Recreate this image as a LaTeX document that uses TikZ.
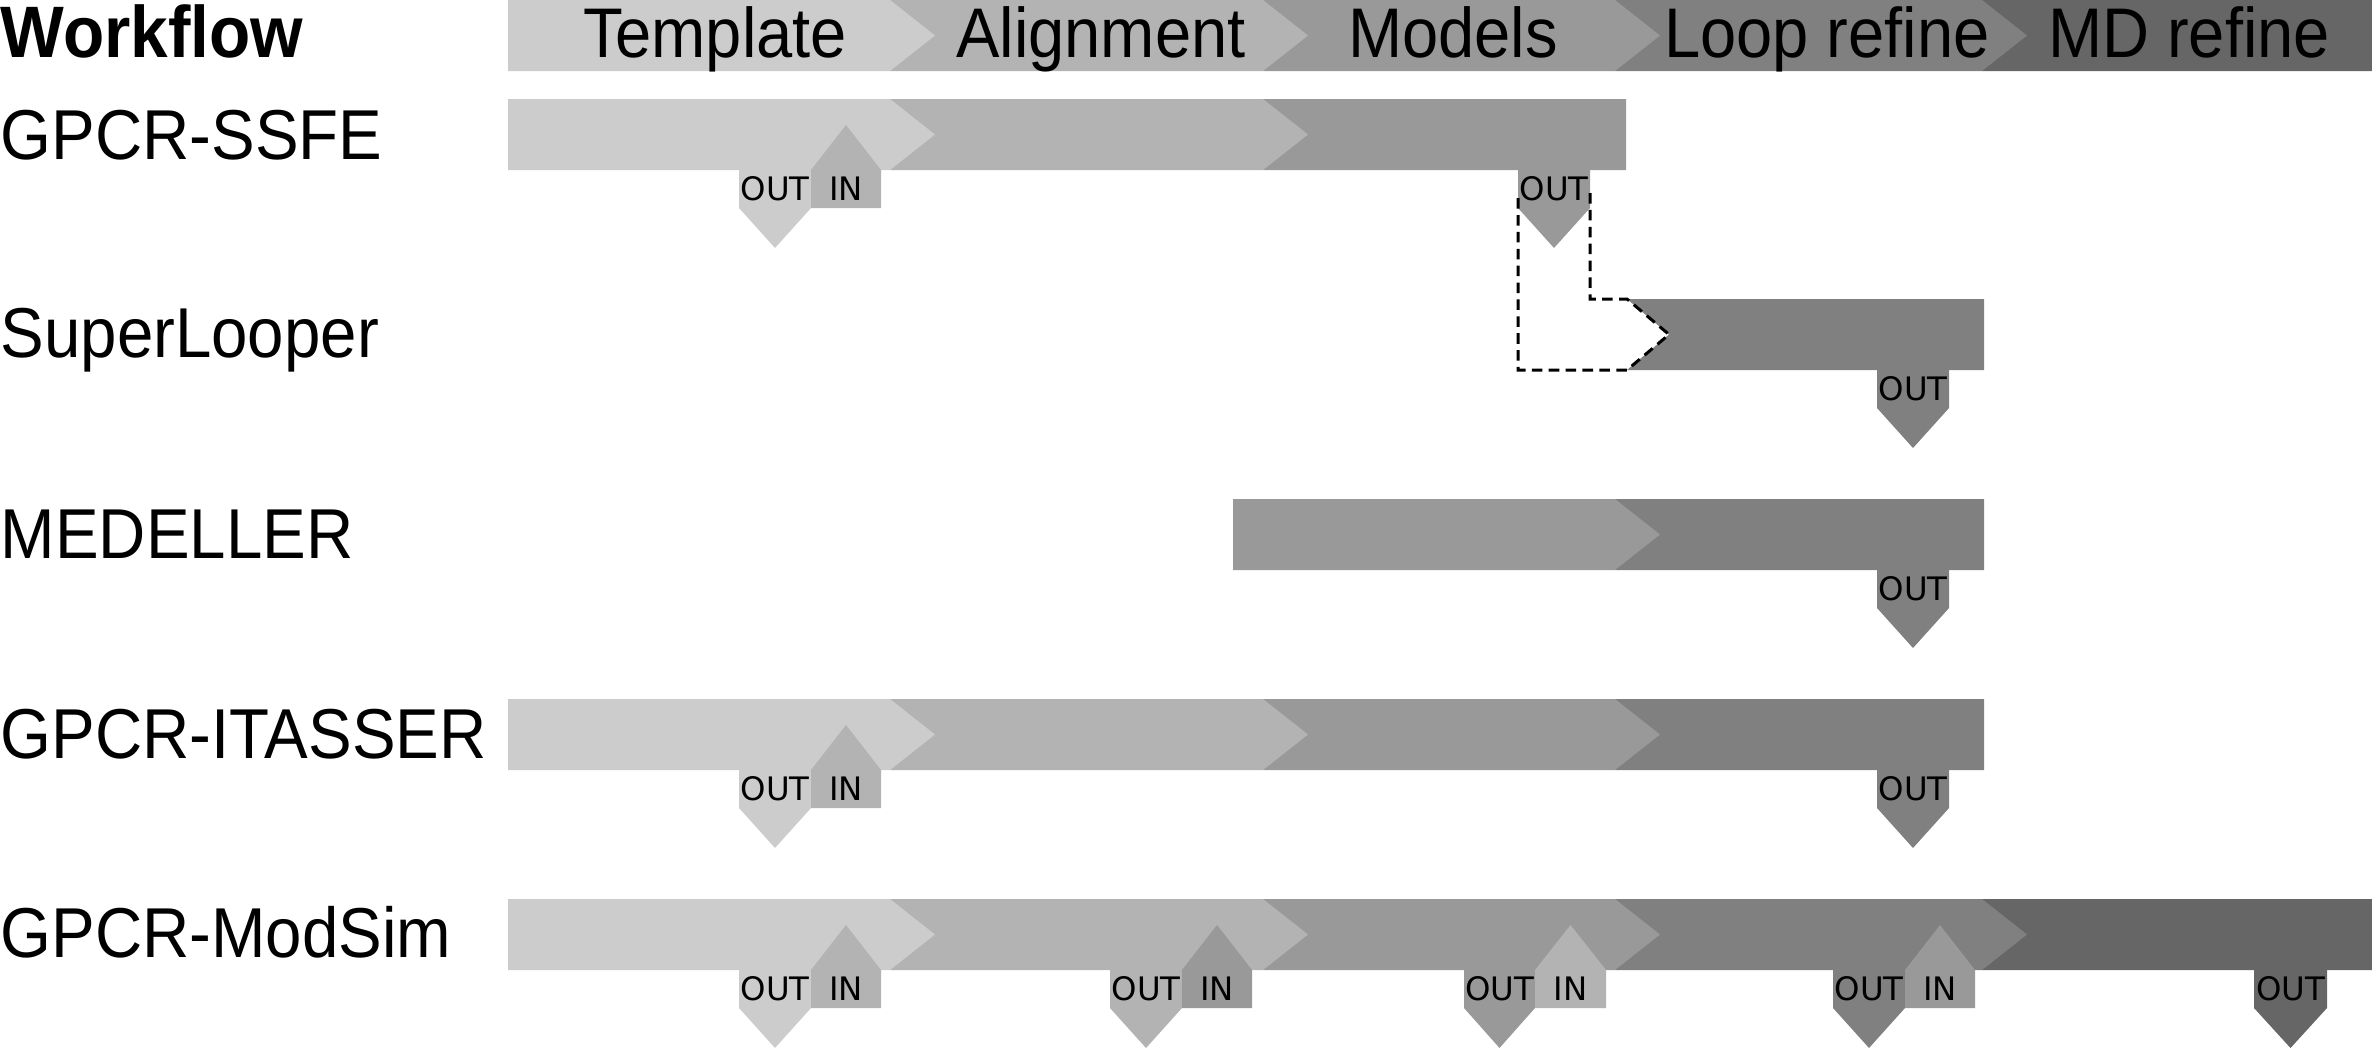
\documentclass[tikz,border=0pt]{standalone}
\usepackage{fontspec}
\setmainfont{Liberation Sans}
\newfontfamily\portfont{DejaVu Sans}
\usepackage{tikz}
\usetikzlibrary{calc}

\definecolor{tplgray}{HTML}{CCCCCC}
\definecolor{aligngray}{HTML}{B3B3B3}
\definecolor{modelgray}{HTML}{999999}
\definecolor{loopgray}{HTML}{808080}
\definecolor{mdgray}{HTML}{666666}

\tikzset{
  steptext/.style={
    anchor=base,
    inner sep=0pt,
    yscale=1.08,
    font=\fontsize{18.5}{22}\selectfont
  },
  rowlabel/.style={
    anchor=base west,
    inner sep=0pt,
    yscale=1.08,
    font=\fontsize{18.6}{22}\selectfont
  },
  porttext/.style={
    inner sep=0pt,
    font=\portfont\fontsize{9.2}{11}\selectfont
  },
  loopoutline/.style={
    draw=black,
    line width=0.85pt,
    dash pattern=on 3pt off 1.8pt
  },
}

% one coloured step of a bar: colour, left x, right x, top y, tip length
\newcommand{\stepbar}[5]{%
  \fill[#1] (#2,#4) -- (#3,#4) -- ++(#5,35.5) -- ++(-#5,35.5) -- (#2,#4+71) -- cycle;
}
% arrow leaving a bar: name, colour, left x, right x, bar bottom
\newcommand{\outport}[5]{%
  \fill[#2] (#3,#5) -- (#4,#5) -- (#4,#5+38) -- ({(#3+#4)/2},#5+78) -- (#3,#5+38) -- cycle;
  \node[porttext] (#1) at ({(#3+#4)/2},#5+19) {OUT};
}
% arrow entering a bar: name, colour, left x, right x, bar bottom
\newcommand{\inport}[5]{%
  \fill[#2] (#3,#5+38) -- (#4,#5+38) -- (#4,#5) -- ({(#3+#4)/2},#5-45) -- (#3,#5) -- cycle;
  \node[porttext] (#1) at ({(#3+#4)/2},#5+19) {IN};
}

\begin{document}
\begin{tikzpicture}[x=0.01cm,y=-0.01cm]
  \useasboundingbox (0,0) rectangle (2372,1048);

  % header
  \foreach \col/\xa/\xb/\tip in {mdgray/1982/2372/0, loopgray/1615/1982/45, modelgray/1263/1615/45, aligngray/890/1263/45, tplgray/508/890/45}
    {\stepbar{\col}{\xa}{\xb}{0}{\tip}}
  \node[rowlabel, font=\fontsize{19.2}{22}\selectfont\bfseries] (wf) at (0,57) {Workflow};
  \node[steptext] (tpl) at (715,57) {Template};
  \node[steptext] (aln) at (1101,57) {Alignment};
  \node[steptext] (mdl) at (1453,57) {Models};
  \node[steptext] (lpr) at (1827,57) {Loop refine};
  \node[steptext] (mdr) at (2189,57) {MD refine};

  % GPCR-SSFE
  \node[rowlabel] (ssfe) at (0,159) {GPCR-SSFE};
  \foreach \col/\xa/\xb/\tip in {modelgray/1263/1626/0, aligngray/890/1263/45, tplgray/508/890/45}
    {\stepbar{\col}{\xa}{\xb}{99}{\tip}}
  \outport{ssfe-o1}{tplgray}{739}{811}{170}
  \inport{ssfe-i1}{aligngray}{811}{881}{170}
  \outport{ssfe-o2}{modelgray}{1518}{1590}{170}

  % SuperLooper
  \node[rowlabel] (sl) at (0,357) {SuperLooper};
  \fill[loopgray] (1627,299) -- (1984,299) -- (1984,370) -- (1627,370) -- (1669,334.5) -- cycle;
  \draw[loopoutline] (1590,193) -- (1590,299) -- (1627,299) -- (1669,334.5) -- (1627,370) -- (1518,370) -- (1518,193);
  \outport{sl-o1}{loopgray}{1877}{1949}{370}

  % MEDELLER
  \node[rowlabel] (med) at (0,558) {MEDELLER};
  \foreach \col/\xa/\xb/\tip in {loopgray/1615/1984/0, modelgray/1233/1615/45}
    {\stepbar{\col}{\xa}{\xb}{499}{\tip}}
  \outport{med-o1}{loopgray}{1877}{1949}{570}

  % GPCR-ITASSER
  \node[rowlabel] (ita) at (0,758) {GPCR-ITASSER};
  \foreach \col/\xa/\xb/\tip in {loopgray/1615/1984/0, modelgray/1263/1615/45, aligngray/890/1263/45, tplgray/508/890/45}
    {\stepbar{\col}{\xa}{\xb}{699}{\tip}}
  \outport{ita-o1}{tplgray}{739}{811}{770}
  \inport{ita-i1}{aligngray}{811}{881}{770}
  \outport{ita-o2}{loopgray}{1877}{1949}{770}

  % GPCR-ModSim
  \node[rowlabel] (ms) at (0,957) {GPCR-ModSim};
  \foreach \col/\xa/\xb/\tip in {mdgray/1982/2372/0, loopgray/1615/1982/45, modelgray/1263/1615/45, aligngray/890/1263/45, tplgray/508/890/45}
    {\stepbar{\col}{\xa}{\xb}{899}{\tip}}
  \outport{ms-o1}{tplgray}{739}{811}{970}
  \inport{ms-i1}{aligngray}{811}{881}{970}
  \outport{ms-o2}{aligngray}{1110}{1182}{970}
  \inport{ms-i2}{modelgray}{1182}{1252}{970}
  \outport{ms-o3}{modelgray}{1464}{1535}{970}
  \inport{ms-i3}{aligngray}{1535}{1606}{970}
  \outport{ms-o4}{loopgray}{1833}{1905}{970}
  \inport{ms-i4}{modelgray}{1905}{1975}{970}
  \outport{ms-o5}{mdgray}{2254}{2327}{970}
\end{tikzpicture}
\end{document}
